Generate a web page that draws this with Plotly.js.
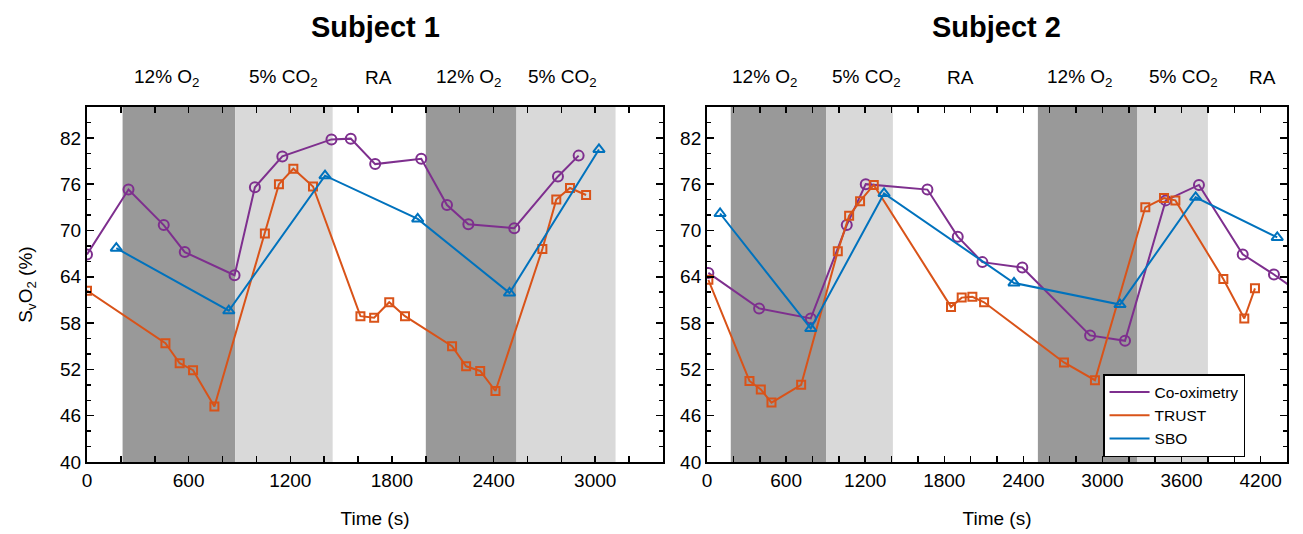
<!DOCTYPE html>
<html>
<head>
<meta charset="utf-8">
<script src="https://cdn.plot.ly/plotly-3.0.1.min.js"></script>
<style>html,body{margin:0;padding:0;background:#fff;}#chart{width:1303px;height:534px;}</style>
</head>
<body>
<div id="chart"></div>
<script>
// ---------- Data ----------
// Subject 1
const s1CoxT   = [0, 245, 453, 577, 871, 991, 1153, 1443, 1557, 1701, 1973, 2125, 2251, 2522, 2780, 2902];
const s1CoxV   = [66.9, 75.3, 70.7, 67.2, 64.2, 75.6, 79.6, 81.8, 81.9, 78.6, 79.3, 73.3, 70.8, 70.3, 77.0, 79.7];
const s1TrustT = [0, 463, 547, 626, 752, 1050, 1133, 1218, 1334, 1614, 1695, 1784, 1877, 2155, 2238, 2321, 2411, 2688, 2770, 2851, 2946];
const s1TrustV = [62.2, 55.4, 52.8, 51.9, 47.2, 69.6, 76.0, 78.0, 75.7, 58.9, 58.7, 60.7, 58.9, 55.0, 52.4, 51.8, 49.2, 67.6, 74.0, 75.5, 74.6];
const s1SboT   = [173, 837, 1405, 1952, 2494, 3022];
const s1SboV   = [67.7, 59.6, 77.1, 71.5, 61.9, 80.5];

// Subject 2
const s2CoxT   = [10, 395, 787, 1060, 1204, 1672, 1902, 2089, 2392, 2906, 3171, 3480, 3732, 4064, 4301, 4450];
const s2CoxV   = [64.5, 59.9, 58.6, 70.7, 76.0, 75.3, 69.2, 65.9, 65.2, 56.4, 55.7, 73.9, 75.9, 66.9, 64.3, 62.5];
const s2TrustT = [10, 322, 408, 489, 714, 992, 1078, 1161, 1265, 1851, 1932, 2013, 2102, 2708, 2943, 3325, 3467, 3553, 3917, 4076, 4157];
const s2TrustV = [63.6, 50.5, 49.4, 47.7, 50.0, 67.3, 71.9, 73.8, 75.9, 60.1, 61.3, 61.4, 60.7, 52.9, 50.6, 73.0, 74.2, 73.9, 63.7, 58.6, 62.5];
const s2SboT   = [99, 787, 1343, 2329, 3133, 3707, 4326];
const s2SboV   = [72.2, 57.3, 74.8, 63.2, 60.4, 74.3, 69.1];

// Condition periods (s)
const s1DarkBands  = [[210, 875], [2000, 2535]];
const s1LightBands = [[875, 1450], [2535, 3120]];
const s2DarkBands  = [[180, 905], [2510, 3265]];
const s2LightBands = [[905, 1410], [3265, 3800]];

// Condition labels
const s1CondLabels = ["12% O<sub>2</sub>", "5% CO<sub>2</sub>", "RA", "12% O<sub>2</sub>", "5% CO<sub>2</sub>"];
const s1CondPos    = [470, 1157, 1719, 2257, 2808];
const s2CondLabels = ["12% O<sub>2</sub>", "5% CO<sub>2</sub>", "RA", "12% O<sub>2</sub>", "5% CO<sub>2</sub>", "RA"];
const s2CondPos    = [439, 1207, 1921, 2831, 3612, 4211];

const seriesNames = ["Co-oximetry", "TRUST", "SBO"];
const panelTitles = ["Subject 1", "Subject 2"];

// ---------- Style ----------
const FONT = "Liberation Sans, Arial, Helvetica, sans-serif";
const cPurple = "#7E2F8E", cOrange = "#D95319", cBlue = "#0072BD";
const colors = [cPurple, cOrange, cBlue];
const symbols = ["circle-open", "square-open", "triangle-up-open"];
const sizes = [10, 8, 10];

function series(t, v, i, xa, ya) {
  return {
    x: t, y: v, xaxis: xa, yaxis: ya, type: "scatter", mode: "lines+markers",
    line: {color: colors[i], width: 2},
    marker: {symbol: symbols[i], size: sizes[i], color: colors[i], line: {color: colors[i], width: 2}},
    showlegend: false, hoverinfo: "skip", cliponaxis: true
  };
}

const data = [
  series(s1CoxT, s1CoxV, 0, "x", "y"),
  series(s1TrustT, s1TrustV, 1, "x", "y"),
  series(s1SboT, s1SboV, 2, "x", "y"),
  series(s2CoxT, s2CoxV, 0, "x2", "y2"),
  series(s2TrustT, s2TrustV, 1, "x2", "y2"),
  series(s2SboT, s2SboV, 2, "x2", "y2"),
];
// legend-only line entries
seriesNames.forEach((n, i) => {
  data.push({x: [null], y: [null], xaxis: "x2", yaxis: "y2", type: "scatter", mode: "lines",
    name: n, line: {color: colors[i], width: 2}, showlegend: true});
});

const shapes = [];
function addBands(bands, fill, xref) {
  bands.forEach(b => shapes.push({type: "rect", xref: xref, yref: (xref === "x" ? "y domain" : "y2 domain"),
    x0: b[0], x1: b[1], y0: 0, y1: 1, fillcolor: fill, line: {width: 0}, layer: "below"}));
}
addBands(s1DarkBands, "#999999", "x");
addBands(s1LightBands, "#d9d9d9", "x");
addBands(s2DarkBands, "#999999", "x2");
addBands(s2LightBands, "#d9d9d9", "x2");

const annotations = [];
s1CondLabels.forEach((t, i) => annotations.push({text: t, x: s1CondPos[i], xref: "x", y: 1.082, yref: "paper",
  showarrow: false, font: {family: FONT, size: 19, color: "#000"}, xanchor: "center", yanchor: "middle"}));
s2CondLabels.forEach((t, i) => annotations.push({text: t, x: s2CondPos[i], xref: "x2", y: 1.082, yref: "paper",
  showarrow: false, font: {family: FONT, size: 19, color: "#000"}, xanchor: "center", yanchor: "middle"}));
annotations.push({text: "<b>" + panelTitles[0] + "</b>", x: 0.24, xref: "paper", y: 1.175, yref: "paper",
  xanchor: "center", yanchor: "bottom", showarrow: false, font: {family: FONT, size: 29, color: "#000"}});
annotations.push({text: "<b>" + panelTitles[1] + "</b>", x: 0.7583, xref: "paper", y: 1.175, yref: "paper",
  xanchor: "center", yanchor: "bottom", showarrow: false, font: {family: FONT, size: 29, color: "#000"}});

function xAxis(domain, range) {
  return {
    domain: domain, range: range, tick0: 0, dtick: 600,
    ticks: "inside", ticklen: 6, tickwidth: 1.5, tickcolor: "#000",
    minor: {dtick: 200, tick0: 0, ticks: "inside", ticklen: 6, tickwidth: 1.5, tickcolor: "#000"},
    showline: true, linecolor: "#000", linewidth: 2, mirror: "ticks",
    showgrid: false, zeroline: false,
    tickfont: {family: FONT, size: 19, color: "#000"},
    title: {text: "Time (s)", font: {family: FONT, size: 19, color: "#000"}, standoff: 22},
  };
}
function yAxis(anchor, showTitle) {
  return {
    anchor: anchor, range: [40, 86], tick0: 40, dtick: 6,
    ticks: "inside", ticklen: 7, tickwidth: 1.5, tickcolor: "#000",
    minor: {dtick: 2, tick0: 40, ticks: "inside", ticklen: 4, tickwidth: 1.5, tickcolor: "#000"},
    showline: true, linecolor: "#000", linewidth: 2, mirror: "ticks",
    showgrid: false, zeroline: false,
    tickfont: {family: FONT, size: 19, color: "#000"},
    title: showTitle ? {text: "S<sub>v</sub>O<sub>2</sub> (%)", font: {family: FONT, size: 19, color: "#000"}, standoff: 22} : {text: ""},
  };
}

const layout = {
  width: 1303, height: 534,
  margin: {l: 87, r: 16, t: 107, b: 72},
  paper_bgcolor: "#fff", plot_bgcolor: "#fff",
  font: {family: FONT, size: 19, color: "#000"},
  xaxis: xAxis([0, 0.48], [0, 3400]),
  xaxis2: xAxis([0.5167, 1], [0, 4400]),
  yaxis: yAxis("x", true),
  yaxis2: yAxis("x2", false),
  shapes: shapes,
  annotations: annotations,
  showlegend: true,
  legend: {x: 0.8467, y: 0.014, xanchor: "left", yanchor: "bottom", bgcolor: "#fff",
    bordercolor: "#000", borderwidth: 1.5, font: {family: FONT, size: 15.5, color: "#000"},
    tracegroupgap: 0, itemwidth: 40}
};

Plotly.newPlot("chart", data, layout, {displayModeBar: false, staticPlot: true});
</script>
</body>
</html>
